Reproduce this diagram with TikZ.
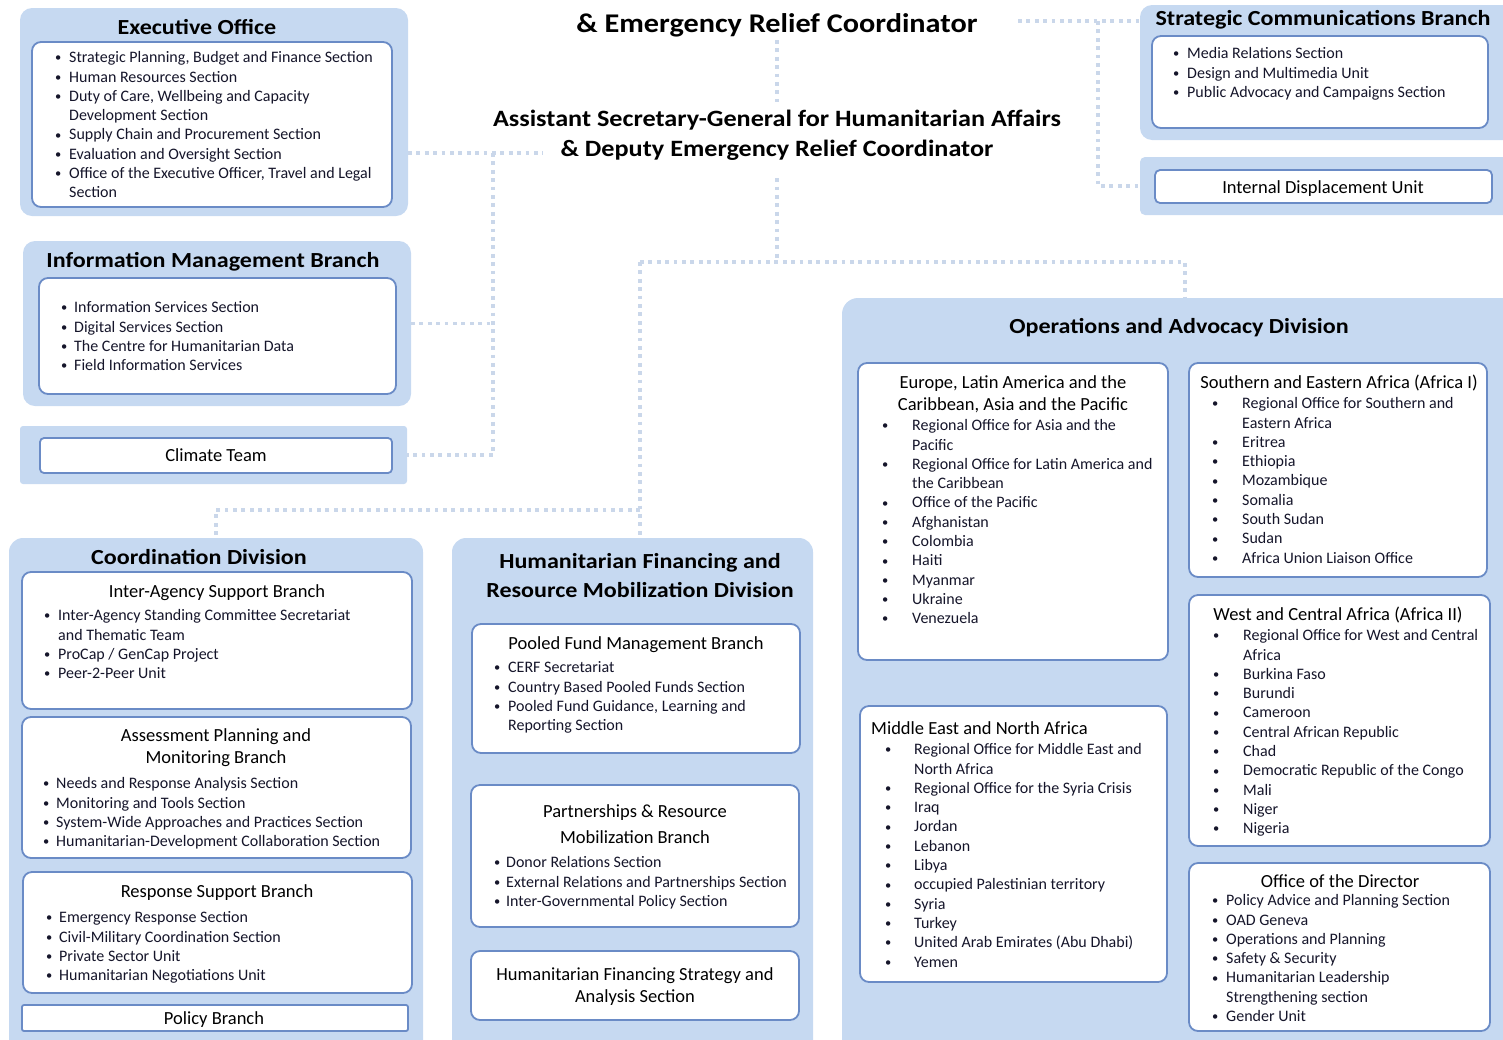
\documentclass[tikz,border=0pt]{standalone}
\usepackage{fontspec}
\setmainfont{Carlito}
\newfontfamily\hfont[FakeStretch=1.12]{Carlito}
\definecolor{boxfill}{HTML}{C6D9F1}
\definecolor{boxline}{HTML}{6A8BC6}
\definecolor{dotc}{HTML}{CAD7EA}
\definecolor{txt}{HTML}{15152A}
\newlength\bw
\newcommand\bi[1]{\strut\makebox[\bw][l]{\raisebox{0.8pt}{\fontsize{12.5}{12.5}\selectfont •}}#1}
\newcommand\bc[1]{\strut\hspace*{\bw}#1}
\newcommand\itemfont{\fontsize{16}{19.3}\selectfont}
\newcommand\subfont{\fontsize{18.5}{22}\selectfont}
\newcommand\headfont{\hfont\bfseries\fontsize{21.5}{29}\selectfont}
\newcommand\titlefont{\hfont\bfseries\fontsize{23.4}{30}\selectfont}
\newcommand\toptitlefont{\hfont\bfseries\fontsize{27}{32}\selectfont}
% style, name, x1, y1, x2, y2
\newcommand\bx[6]{\node[#1, minimum width={(#5-#3)*1pt}, minimum height={(#6-#4)*1pt}] (#2) at ({(#3+#5)/2},{(#4+#6)/2}) {};}
\tikzset{
  outer/.style={fill=boxfill, draw=none, rounded corners=12pt, inner sep=0pt, outer sep=0pt},
  inner/.style={fill=white, draw=boxline, line width=1.8pt, rounded corners=9pt, inner sep=0pt, outer sep=0pt},
  conn/.style={draw=dotc, line width=3.8pt, dash pattern=on 3.8pt off 4.6pt},
  lst/.style={align=left, inner sep=0pt, anchor=north west, text=txt, font=\itemfont, execute at begin node={\setlength\bw{#1}}},
  sub/.style={inner sep=0pt, anchor=base, text=black, font=\subfont},
  msub/.style={inner sep=0pt, anchor=north, text=black, font=\subfont, align=center},
  head/.style={inner sep=0pt, anchor=base, text=black, font=\headfont},
}
\begin{document}
\begin{tikzpicture}[x=1pt,y=-1pt]
\useasboundingbox (0,0) rectangle (1503,1039);
\clip (0,0) rectangle (1503,1039);
% ---------- boxes ----------
\bx{outer}{eo}{20}{8}{408}{216}
\bx{inner}{eoi}{32}{42}{392}{207}
\bx{outer}{imb}{23}{241}{411}{406}
\bx{inner}{imbi}{39}{278}{396}{394}
\bx{outer, rounded corners=3pt}{ct}{20}{426}{407}{484}
\bx{inner, rounded corners=4pt}{cti}{40}{438}{392}{473}
\bx{outer}{scb}{1140}{5}{1520}{140}
\bx{inner}{scbi}{1152}{36}{1488}{128}
\bx{outer, rounded corners=5pt}{idu}{1140}{157}{1520}{215}
\bx{inner, rounded corners=5pt}{idui}{1155}{170}{1492}{203}
\bx{outer, rounded corners=14pt}{cd}{9}{538}{423}{1060}
\bx{inner}{ias}{22}{572}{412}{709}
\bx{inner}{apm}{22}{717}{411}{858}
\bx{inner}{rsb}{23}{872}{412}{993}
\bx{inner, rounded corners=2pt}{pol}{22}{1005}{408}{1031}
\bx{outer, rounded corners=14pt}{hf}{452}{538}{813}{1060}
\bx{inner}{pfm}{472}{624}{800}{753}
\bx{inner}{prm}{471}{785}{799}{927}
\bx{inner}{hfs}{471}{951}{799}{1020}
\bx{outer, rounded corners=16pt}{oad}{842}{298}{1520}{1060}
\bx{inner}{eur}{858}{363}{1168}{660}
\bx{inner}{sea}{1189}{363}{1487}{577}
\bx{inner}{wca}{1189}{595}{1490}{846}
\bx{inner}{mena}{860}{706}{1167}{982}
\bx{inner}{ood}{1189}{863}{1490}{1031}
% ---------- top titles ----------
\node[head, font=\toptitlefont] (erc) at (777,32) {\& Emergency Relief Coordinator};
\node[inner sep=0pt, anchor=north, align=center, font=\titlefont] (asg) at (777,105.7)
  {\strut Assistant Secretary-General for Humanitarian Affairs\\\strut\& Deputy Emergency Relief Coordinator};
% ---------- headings ----------
\node[head] (eot) at (197,34) {Executive Office};
\node[head] (imbt) at (213,267) {Information Management Branch};
\node[head] (scbt) at (1323,25) {Strategic Communications Branch};
\node[head] (cdt) at (199,564) {Coordination Division};
\node[inner sep=0pt, anchor=north, align=center, font=\headfont] (hft) at (640,547.7)
  {\strut Humanitarian Financing and\\\strut Resource Mobilization Division};
\node[head] (oadt) at (1179,333) {Operations and Advocacy Division};
% ---------- sub headings ----------
\node[sub] (ctt) at (216,461) {Climate Team};
\node[sub] (idut) at (1323,193) {Internal Displacement Unit};
\node[sub] (iast) at (217,597) {Inter-Agency Support Branch};
\node[msub] (apmt) at (216,725.6) {\strut Assessment Planning and\\\strut Monitoring Branch};
\node[sub] (rsbt) at (217,897) {Response Support Branch};
\node[sub] (polt) at (214,1024) {Policy Branch};
\node[sub] (pfmt) at (636,649) {Pooled Fund Management Branch};
\node[msub, font=\fontsize{18.5}{26}\selectfont] (prmt) at (635,798.8) {\strut Partnerships \& Resource\\\strut Mobilization Branch};
\node[msub] (hfst) at (635,964.6) {\strut Humanitarian Financing Strategy and\\\strut Analysis Section};
\node[msub] (eurt) at (1013,372.6) {\strut Europe, Latin America and the\\\strut Caribbean, Asia and the Pacific};
\node[sub] (seat) at (1339,388) {Southern and Eastern Africa (Africa I)};
\node[sub] (wcat) at (1338,620) {West and Central Africa (Africa II)};
\node[sub, anchor=base west] (menat) at (871,734) {Middle East and North Africa};
\node[sub] (oodt) at (1340,887) {Office of the Director};
% ---------- lists ----------
\node[lst=14pt] (eoL) at (55,49) {\bi{Strategic Planning, Budget and Finance Section}\\\bi{Human Resources Section}\\\bi{Duty of Care, Wellbeing and Capacity}\\\bc{Development Section}\\\bi{Supply Chain and Procurement Section}\\\bi{Evaluation and Oversight Section}\\\bi{Office of the Executive Officer, Travel and Legal}\\\bc{Section}};
\node[lst=13pt] (imbL) at (61,299) {\bi{Information Services Section}\\\bi{Digital Services Section}\\\bi{The Centre for Humanitarian Data}\\\bi{Field Information Services}};
\node[lst=14pt] (scbL) at (1173,45) {\bi{Media Relations Section}\\\bi{Design and Multimedia Unit}\\\bi{Public Advocacy and Campaigns Section}};
\node[lst=14pt] (iasL) at (44,607) {\bi{Inter-Agency Standing Committee Secretariat}\\\bc{and Thematic Team}\\\bi{ProCap / GenCap Project}\\\bi{Peer-2-Peer Unit}};
\node[lst=13pt] (apmL) at (43,775) {\bi{Needs and Response Analysis Section}\\\bi{Monitoring and Tools Section}\\\bi{System-Wide Approaches and Practices Section}\\\bi{Humanitarian-Development Collaboration Section}};
\node[lst=13pt] (rsbL) at (46,909) {\bi{Emergency Response Section}\\\bi{Civil-Military Coordination Section}\\\bi{Private Sector Unit}\\\bi{Humanitarian Negotiations Unit}};
\node[lst=14pt] (pfmL) at (494,659) {\bi{CERF Secretariat}\\\bi{Country Based Pooled Funds Section}\\\bi{Pooled Fund Guidance, Learning and}\\\bc{Reporting Section}};
\node[lst=12pt] (prmL) at (494,854) {\bi{Donor Relations Section}\\\bi{External Relations and Partnerships Section}\\\bi{Inter-Governmental Policy Section}};
\node[lst=30pt] (eurL) at (882,417) {\bi{Regional Office for Asia and the}\\\bc{Pacific}\\\bi{Regional Office for Latin America and}\\\bc{the Caribbean}\\\bi{Office of the Pacific}\\\bi{Afghanistan}\\\bi{Colombia}\\\bi{Haiti}\\\bi{Myanmar}\\\bi{Ukraine}\\\bi{Venezuela}};
\node[lst=30pt] (seaL) at (1212,395) {\bi{Regional Office for Southern and}\\\bc{Eastern Africa}\\\bi{Eritrea}\\\bi{Ethiopia}\\\bi{Mozambique}\\\bi{Somalia}\\\bi{South Sudan}\\\bi{Sudan}\\\bi{Africa Union Liaison Office}};
\node[lst=30pt] (wcaL) at (1213,627) {\bi{Regional Office for West and Central}\\\bc{Africa}\\\bi{Burkina Faso}\\\bi{Burundi}\\\bi{Cameroon}\\\bi{Central African Republic}\\\bi{Chad}\\\bi{Democratic Republic of the Congo}\\\bi{Mali}\\\bi{Niger}\\\bi{Nigeria}};
\node[lst=29pt] (menaL) at (885,741) {\bi{Regional Office for Middle East and}\\\bc{North Africa}\\\bi{Regional Office for the Syria Crisis}\\\bi{Iraq}\\\bi{Jordan}\\\bi{Lebanon}\\\bi{Libya}\\\bi{occupied Palestinian territory}\\\bi{Syria}\\\bi{Turkey}\\\bi{United Arab Emirates (Abu Dhabi)}\\\bi{Yemen}};
\node[lst=14pt] (oodL) at (1212,892) {\bi{Policy Advice and Planning Section}\\\bi{OAD Geneva}\\\bi{Operations and Planning}\\\bi{Safety \& Security}\\\bi{Humanitarian Leadership}\\\bc{Strengthening section}\\\bi{Gender Unit}};
% ---------- connectors ----------
\coordinate (jT) at (777,262);
\coordinate (jHF) at (640,262);
\coordinate (jOA) at (1185,262);
\coordinate (jCD) at (640,510);
\coordinate (jL) at (493,153);
\coordinate (jA) at (543,153);
\coordinate (jR) at (1098,21);
\coordinate (jE) at (1018,21);
\draw[conn, shorten <=3.3pt, shorten >=3.5pt] (erc) -- (asg);
\draw[conn, shorten <=12pt] (asg.south) -- (jT);
\draw[conn] (jHF) -- (jOA) -- (oad.north -| jOA);
\draw[conn] (jHF) -- (hf.north -| jHF);
\draw[conn] (jCD) -| (cd.north);
\draw[conn] (eo.east |- jL) -- (jA);
\draw[conn] (jL) |- (ct.east);
\draw[conn] (imb.east) -- (imb.east -| jL);
\draw[conn] (jE) -- (scb.west |- jR);
\draw[conn] (jR) |- (idu.west);
\end{tikzpicture}
\end{document}
